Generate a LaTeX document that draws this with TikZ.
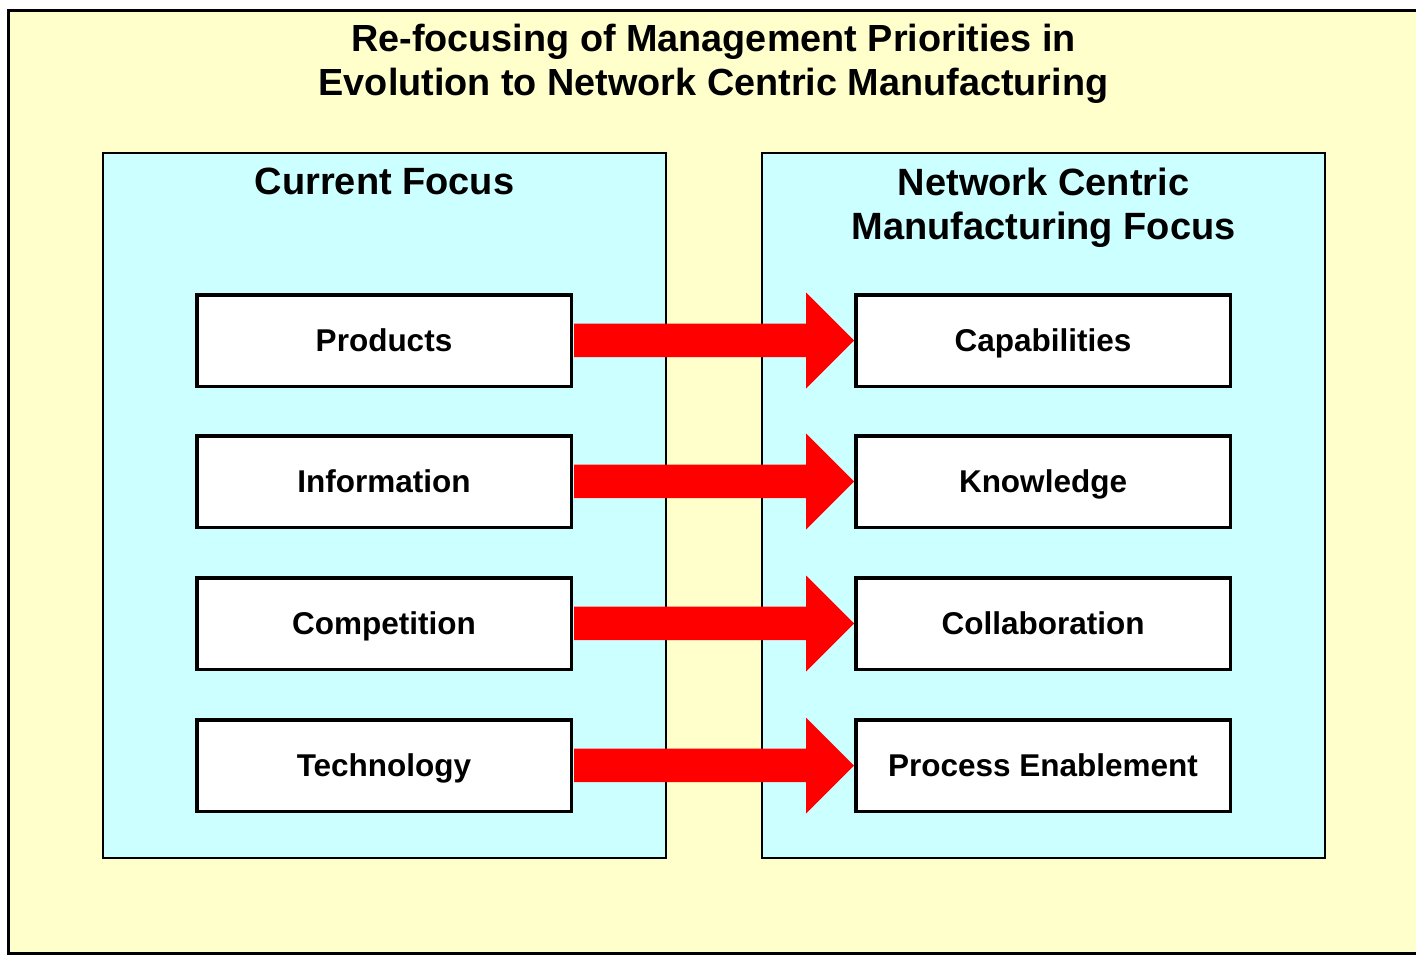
\documentclass[tikz,border=0pt]{standalone}
\usepackage{fontspec}
\setmainfont{Liberation Sans}
\usetikzlibrary{calc}
\definecolor{bgyellow}{HTML}{FFFFCC}
\definecolor{panelcyan}{HTML}{CCFFFF}

\begin{document}
\begin{tikzpicture}[x=1pt,y=-1pt]
	\useasboundingbox (0,0) rectangle (1416,956);
	\draw [fill=bgyellow,line width=3pt] (8,10) rectangle (1425,953);
	\node [anchor=north,inner sep=0pt,align=center,font=\fontsize{37.8}{44}\selectfont\bfseries] (title) at (713.5,24) {Re-focusing of Management Priorities in\\Evolution to Network Centric Manufacturing};
	
	\begin{scope}[every node/.style={draw=black,line width=2pt,fill=panelcyan,minimum width=563pt,minimum height=705pt,inner sep=0pt}]
		\node (cur) at (384.5,505.5) {};
		\node (ncm) at (1043.5,505.5) {};
	\end{scope}
	
	\begin{scope}[every node/.style={anchor=north,inner sep=0pt,align=center,font=\fontsize{38}{44}\selectfont\bfseries}]
		\node (curhead) at ($(cur.north)+(0,16)$) {Current Focus};
		\node (ncmhead) at ($(ncm.north)+(0,16)$) {Network Centric\\Manufacturing Focus};
	\end{scope}
	
	\begin{scope}[every node/.style={draw=black,line width=3.5pt,fill=white,minimum width=374.5pt,minimum height=91.5pt,text height=22.5pt,text depth=0pt,font=\fontsize{31.5}{37}\selectfont\bfseries}]
		\node (prod) at (384,340.5) {Products};
		\node (info) at (384,481.5) {Information};
		\node (comp) at (384,623.5) {Competition};
		\node (tech) at (384,765.5) {Technology};
		\node (capa) at (1043,340.5) {Capabilities};
		\node (know) at (1043,481.5) {Knowledge};
		\node (coll) at (1043,623.5) {Collaboration};
		\node (proc) at (1043,765.5) {Process Enablement};
	\end{scope}
	
	\foreach \a/\b in {prod/capa,info/know,comp/coll,tech/proc}
		\fill [red] ($(\a.east)+(1,-17)$) -- ($(\b.west)+(-48,-17)$) -- ($(\b.west)+(-48,-48)$) -- (\b.west)
			-- ($(\b.west)+(-48,48)$) -- ($(\b.west)+(-48,16.5)$) -- ($(\a.east)+(1,16.5)$) -- cycle;
\end{tikzpicture}
\end{document}
